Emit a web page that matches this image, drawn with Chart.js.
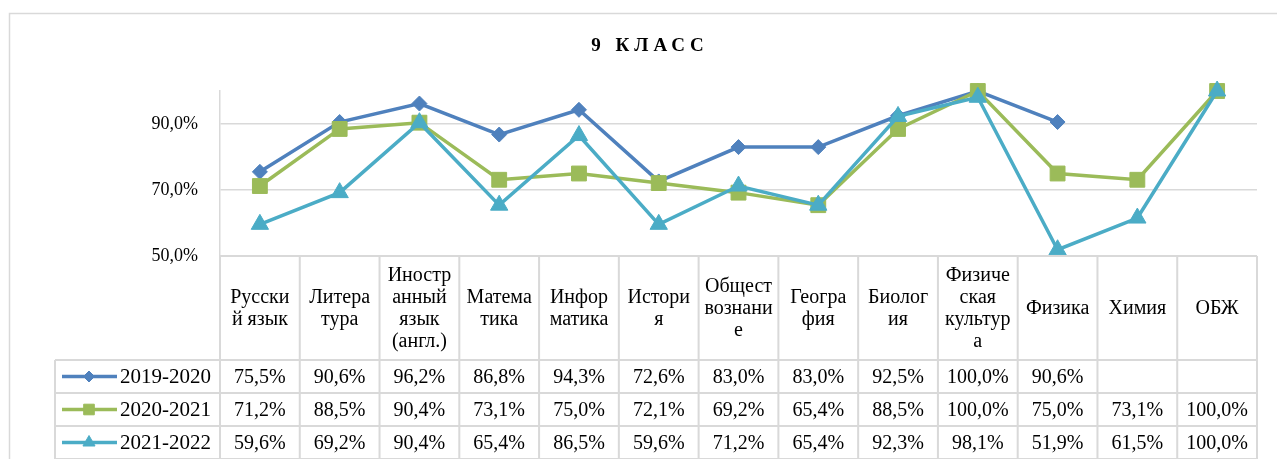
<!DOCTYPE html>
<html>
<head>
<meta charset="utf-8">
<script src="https://cdn.jsdelivr.net/npm/chart.js@4.4.1/dist/chart.umd.min.js"></script>
<style>
  body { margin: 0; background: #fff; }
  canvas { display: block; }
</style>
</head>
<body>
<canvas id="chart" width="1277" height="459"></canvas>
<script>
// Данные диаграммы
const categories = [
  ['Русски', 'й язык'], ['Литера', 'тура'], ['Иностр', 'анный', 'язык', '(англ.)'],
  ['Матема', 'тика'], ['Инфор', 'матика'], ['Истори', 'я'], ['Общест', 'вознани', 'е'],
  ['Геогра', 'фия'], ['Биолог', 'ия'], ['Физиче', 'ская', 'культур', 'а'],
  ['Физика'], ['Химия'], ['ОБЖ']
];
const seriesNames = ['2019-2020', '2020-2021', '2021-2022'];
const values2019 = [75.5, 90.6, 96.2, 86.8, 94.3, 72.6, 83.0, 83.0, 92.5, 100.0, 90.6, null, null];
const values2020 = [71.2, 88.5, 90.4, 73.1, 75.0, 72.1, 69.2, 65.4, 88.5, 100.0, 75.0, 73.1, 100.0];
const values2021 = [59.6, 69.2, 90.4, 65.4, 86.5, 59.6, 71.2, 65.4, 92.3, 98.1, 51.9, 61.5, 100.0];
const yTicks = [50, 70, 90];

const colors = ['#4f81bd', '#9bbb59', '#4bacc6'];
const styles = [
  { pointStyle: 'rectRot', radius: 7.5, keyRadius: 5.5 },
  { pointStyle: 'rect', radius: 10.5, keyRadius: 7.5 },
  { pointStyle: 'triangle', radius: 10, keyRadius: 7 }
];
const serif = "'Liberation Serif', 'Times New Roman', serif";
const gridColor = '#d9d9d9';

const fmt = v => v.toFixed(1).replace('.', ',') + '%';

// Рамка, заголовок и таблица данных под графиком
const tablePlugin = {
  id: 'dataTable',
  afterDraw(chart) {
    const ctx = chart.ctx;
    const x = chart.scales.x;
    const area = chart.chartArea;
    const colW = x.getPixelForValue(1) - x.getPixelForValue(0);
    const top = area.bottom;
    const headBottom = 360;
    const rowH = 33;
    const keyLeft = 55;
    const sets = chart.data.datasets;

    ctx.save();
    // внешняя рамка
    ctx.strokeStyle = gridColor;
    ctx.lineWidth = 1.5;
    ctx.strokeRect(9.5, 13.5, 1300, 500);

    // заголовок
    ctx.fillStyle = '#000';
    ctx.font = 'bold 19px ' + serif;
    ctx.textAlign = 'center';
    ctx.textBaseline = 'middle';
    ctx.letterSpacing = '5px';
    ctx.fillText('9 КЛАСС', 650, 46);
    ctx.letterSpacing = '0px';

    // линии таблицы
    ctx.strokeStyle = gridColor;
    ctx.lineWidth = 2;
    ctx.beginPath();
    ctx.moveTo(area.left, top); ctx.lineTo(area.right, top);
    for (let r = 0; r <= sets.length; r++) {
      const y = headBottom + r * rowH;
      ctx.moveTo(keyLeft, y); ctx.lineTo(area.right, y);
    }
    for (let i = 0; i <= categories.length; i++) {
      const cx = area.left + i * colW;
      ctx.moveTo(cx, top); ctx.lineTo(cx, headBottom + sets.length * rowH);
    }
    ctx.moveTo(keyLeft, headBottom); ctx.lineTo(keyLeft, headBottom + sets.length * rowH);
    ctx.stroke();

    // заголовки столбцов
    ctx.fillStyle = '#000';
    ctx.font = '20px ' + serif;
    const lineH = 22;
    const headMid = (top + headBottom) / 2;
    categories.forEach((lines, i) => {
      const cx = x.getPixelForValue(i);
      const y0 = headMid - (lines.length - 1) * lineH / 2;
      lines.forEach((t, k) => ctx.fillText(t, cx, y0 + k * lineH + 1));
    });

    // строки значений с ключами легенды
    sets.forEach((ds, r) => {
      const yMid = headBottom + r * rowH + rowH / 2;
      ctx.strokeStyle = ds.borderColor;
      ctx.lineWidth = 3.5;
      ctx.beginPath();
      ctx.moveTo(keyLeft + 7, yMid); ctx.lineTo(keyLeft + 62, yMid);
      ctx.stroke();
      ctx.fillStyle = ds.borderColor;
      ctx.lineWidth = 1;
      Chart.helpers.drawPoint(ctx, {
        pointStyle: ds.pointStyle, radius: styles[r].keyRadius, rotation: 0, borderWidth: 1
      }, keyLeft + 34, yMid);

      ctx.fillStyle = '#000';
      ctx.textAlign = 'left';
      ctx.font = '21px ' + serif;
      ctx.fillText(ds.label, keyLeft + 65, yMid + 1);
      ctx.font = '20px ' + serif;
      ctx.textAlign = 'center';
      ds.data.forEach((v, i) => {
        if (v === null) return;
        ctx.fillText(fmt(v), x.getPixelForValue(i), yMid + 1);
      });
    });
    ctx.restore();
  }
};

const seriesValues = [values2019, values2020, values2021];

new Chart(document.getElementById('chart'), {
  type: 'line',
  data: {
    labels: categories,
    datasets: seriesNames.map((name, i) => ({
      label: name,
      data: seriesValues[i],
      borderColor: colors[i],
      backgroundColor: colors[i],
      pointBackgroundColor: colors[i],
      pointBorderColor: colors[i],
      pointStyle: styles[i].pointStyle,
      pointRadius: styles[i].radius,
      pointBorderWidth: 1,
      borderWidth: 3.5,
      clip: false,
      order: 3 - i,
      tension: 0
    }))
  },
  options: {
    responsive: false,
    animation: false,
    events: [],
    layout: { padding: { left: 0, right: 20, top: 91, bottom: 203 } },
    plugins: {
      legend: { display: false },
      title: { display: false },
      tooltip: { enabled: false }
    },
    scales: {
      x: {
        display: false,
        offset: true
      },
      y: {
        min: 50,
        max: 100,
        afterFit(scale) { scale.width = 220; },
        afterBuildTicks(scale) { scale.ticks = yTicks.map(v => ({ value: v })); },
        grid: { color: gridColor, lineWidth: 1.5, drawTicks: false },
        border: { display: true, color: gridColor, width: 1.5 },
        ticks: {
          padding: 22,
          color: '#000',
          font: { family: serif, size: 18 },
          callback: v => fmt(v)
        }
      }
    }
  },
  plugins: [tablePlugin]
});
</script>
</body>
</html>
